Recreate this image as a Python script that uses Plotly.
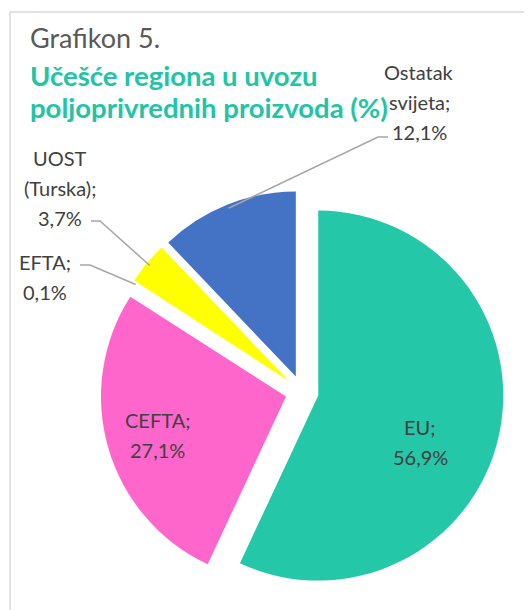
import math
import plotly.graph_objects as go

# ---- data ----
labels = ["EU", "CEFTA", "EFTA", "UOST (Turska)", "Ostatak svijeta"]
values = [56.9, 27.1, 0.1, 3.7, 12.1]
colors = ["#24C7A7", "#FF66CC", "#FFFFFF", "#FFFF00", "#4472C4"]

title_text = "Grafikon 5."
subtitle_lines = ["Učešće regiona u uvozu", "poljoprivrednih proizvoda (%)"]

# ---- layout geometry (screen pixels) ----
OX, OY = 8, 8           # page body margin compensation
W, H = 532 - OX, 610 - OY
CX, CY = 302, 392       # pie centre
R = 185                 # pie radius
PULL = 0.09             # explode fraction
FONT = "Lato"
TXT = "#404040"
TEAL = "#21C4A4"

def px(x):
    return (x - OX) / W

def py(y):
    return 1 - (y - OY) / H

half = R * (1 + PULL)
dom_x = [px(CX - half), px(CX + half)]
dom_y = [py(CY + half), py(CY - half)]

fig = go.Figure(go.Pie(
    labels=labels, values=values, sort=False, direction="clockwise", rotation=0,
    marker=dict(colors=colors, line=dict(width=0)),
    pull=[PULL] * len(values), textinfo="none", hoverinfo="skip",
    domain=dict(x=dom_x, y=dom_y), showlegend=False,
))

# label text per slice
def fmt(v):
    return f"{v:.1f}%".replace(".", ",")

label_lines = []
for lab, v in zip(labels, values):
    parts = lab.split(" ")
    if len(parts) > 1:
        lines = [parts[0], " ".join(parts[1:]) + ";"]
    else:
        lines = [lab + ";"]
    label_lines.append(lines + [fmt(v)])

label_centres = [(420, 442), (157, 435), (45, 277), (60, 188), (419, 102)]
LINE_H = 30
annotations = []
for lines, (lx, ly) in zip(label_lines, label_centres):
    n = len(lines)
    for i, t in enumerate(lines):
        yy = ly + (i - (n - 1) / 2) * LINE_H
        annotations.append(dict(text=t, x=px(lx), y=py(yy), xref="paper", yref="paper",
                                xanchor="center", yanchor="middle", showarrow=False,
                                font=dict(family=FONT, size=20, color=TXT)))

annotations.append(dict(text=title_text, x=px(28), y=py(37), xref="paper", yref="paper",
                        xanchor="left", yanchor="middle", showarrow=False,
                        font=dict(family=FONT, size=27, color="#595959")))
for i, t in enumerate(subtitle_lines):
    annotations.append(dict(text="<b>" + t + "</b>", x=px(28), y=py(75 + 33 * i),
                            xref="paper", yref="paper", xanchor="left", yanchor="middle",
                            showarrow=False, font=dict(family=FONT, size=27.5, color=TEAL)))

# leader lines for outside labels: computed slice tips
total = sum(values)
cum = 0
tips = []
for v in values:
    mid = (cum + v / 2) / total * 2 * math.pi
    cum += v
    dx, dy = math.sin(mid), -math.cos(mid)
    ax, ay = CX + PULL * R * dx, CY + PULL * R * dy
    tips.append((ax + 0.98 * R * dx, ay + 0.98 * R * dy))

leaders = {2: [(90, 265), (80, 265)], 3: [(100, 221), (91, 221)], 4: [(378, 137), (388, 137)]}
shapes = []
for idx, pts in leaders.items():
    tx, ty = tips[idx]
    path = f"M {px(tx)},{py(ty)}" + "".join(f" L {px(a)},{py(b)}" for a, b in pts)
    shapes.append(dict(type="path", path=path, xref="paper", yref="paper",
                       line=dict(color="#A6A6A6", width=1.5)))

# chart frame
shapes.append(dict(type="rect", xref="paper", yref="paper", x0=px(10), y0=py(640),
                   x1=px(560), y1=py(12), line=dict(color="#D9D9D9", width=1.5),
                   fillcolor="rgba(0,0,0,0)"))

fig.update_layout(width=W, height=H, margin=dict(l=0, r=0, t=0, b=0),
                  paper_bgcolor="white", plot_bgcolor="white",
                  annotations=annotations, shapes=shapes, separators=",.")

fig.write_html("out.html")
